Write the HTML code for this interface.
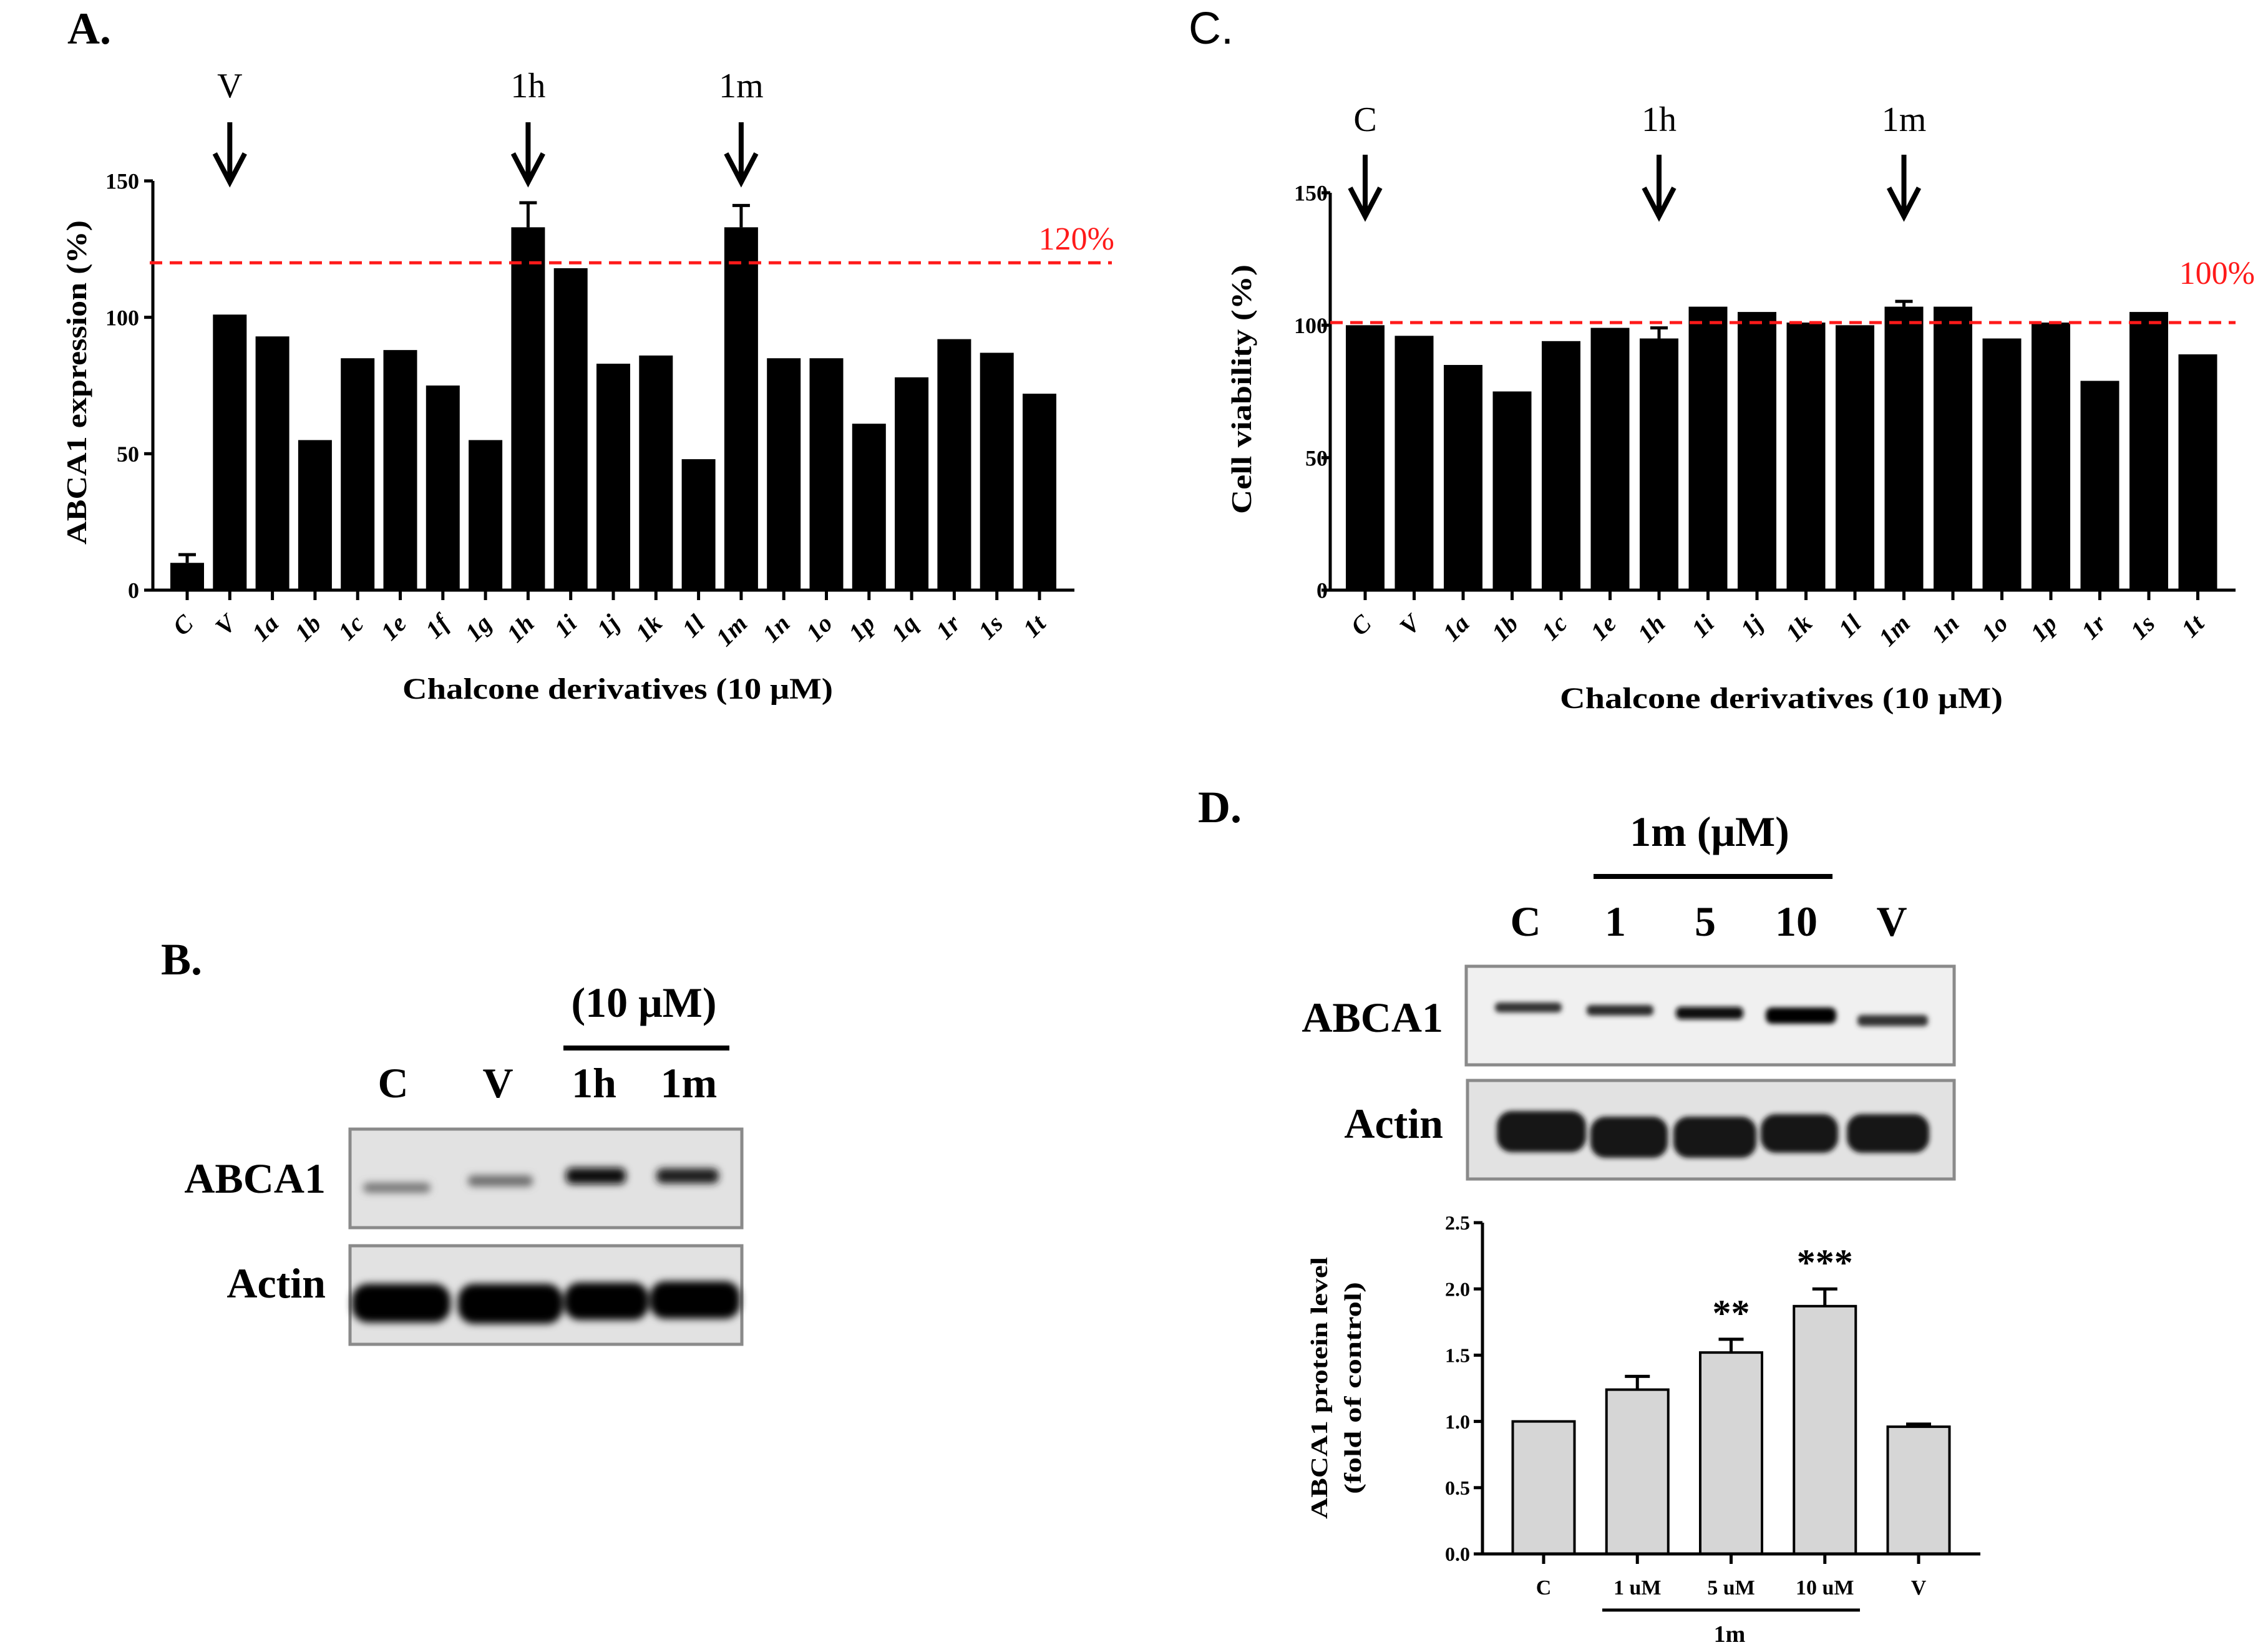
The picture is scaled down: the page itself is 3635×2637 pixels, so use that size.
<!DOCTYPE html>
<html><head><meta charset="utf-8"><style>
html,body{margin:0;padding:0;background:#fff}
svg{display:block}
text{font-family:"Liberation Serif",serif}
</style></head><body>
<svg id="fig" width="3635" height="2637" viewBox="0 0 3635 2637" xmlns="http://www.w3.org/2000/svg">
<defs>
<filter id="blur6" x="-20%" y="-100%" width="140%" height="300%"><feGaussianBlur stdDeviation="6"/></filter>
<filter id="blur4" x="-20%" y="-100%" width="140%" height="300%"><feGaussianBlur stdDeviation="4"/></filter>
</defs>
<text x="108" y="70" font-size="72" font-weight="bold">A.</text>
<text x="1905" y="70" font-size="72" style="font-family:'Liberation Sans',sans-serif">C.</text>
<text x="258" y="1562" font-size="72" font-weight="bold">B.</text>
<text x="1920" y="1318" font-size="72" font-weight="bold">D.</text>

<g id="chartA"></g>
<g id="chartC"></g>
<g id="chartD"></g>

<g>
<text x="1032" y="1630" font-size="68" font-weight="bold" text-anchor="middle">(10 μM)</text>
<line x1="903" y1="1680" x2="1169" y2="1680" stroke="#000" stroke-width="8"/>
<text x="630" y="1759" font-size="68" font-weight="bold" text-anchor="middle">C</text>
<text x="798" y="1759" font-size="68" font-weight="bold" text-anchor="middle">V</text>
<text x="952" y="1759" font-size="68" font-weight="bold" text-anchor="middle">1h</text>
<text x="1104" y="1759" font-size="68" font-weight="bold" text-anchor="middle">1m</text>
<text x="522" y="1912" font-size="68" font-weight="bold" text-anchor="end">ABCA1</text>
<text x="522" y="2080" font-size="68" font-weight="bold" text-anchor="end">Actin</text>
<rect x="561" y="1810" width="628" height="158" fill="#e2e2e2" stroke="#8a8a8a" stroke-width="5"/>
<rect x="561" y="1997" width="628" height="158" fill="#e2e2e2" stroke="#8a8a8a" stroke-width="5"/>
<g filter="url(#blur6)">
<rect x="582" y="1896" width="108" height="16" rx="8" fill="#777"/>
<rect x="750" y="1884" width="104" height="18" rx="8" fill="#6e6e6e"/>
<rect x="907" y="1872" width="96" height="26" rx="10" fill="#111"/>
<rect x="1052" y="1873" width="100" height="24" rx="10" fill="#1a1a1a"/>
<rect x="564" y="2058" width="158" height="62" rx="26" fill="#000"/>
<rect x="734" y="2058" width="168" height="64" rx="26" fill="#000"/>
<rect x="905" y="2056" width="134" height="60" rx="24" fill="#000"/>
<rect x="1042" y="2054" width="144" height="60" rx="24" fill="#000"/>
</g>
</g>

<g>
<text x="2740" y="1356" font-size="68" font-weight="bold" text-anchor="middle">1m (μM)</text>
<line x1="2554" y1="1405" x2="2937" y2="1405" stroke="#000" stroke-width="8"/>
<text x="2445" y="1500" font-size="68" font-weight="bold" text-anchor="middle">C</text>
<text x="2589" y="1500" font-size="68" font-weight="bold" text-anchor="middle">1</text>
<text x="2733" y="1500" font-size="68" font-weight="bold" text-anchor="middle">5</text>
<text x="2879" y="1500" font-size="68" font-weight="bold" text-anchor="middle">10</text>
<text x="3032" y="1500" font-size="68" font-weight="bold" text-anchor="middle">V</text>
<text x="2313" y="1654" font-size="68" font-weight="bold" text-anchor="end">ABCA1</text>
<text x="2313" y="1824" font-size="68" font-weight="bold" text-anchor="end">Actin</text>
<rect x="2350" y="1549" width="782" height="158" fill="#f0f0f0" stroke="#8a8a8a" stroke-width="5"/>
<rect x="2352" y="1732" width="780" height="158" fill="#e2e2e2" stroke="#8a8a8a" stroke-width="5"/>
<g filter="url(#blur4)">
<rect x="2396" y="1607" width="107" height="16" rx="7" fill="#333"/>
<rect x="2543" y="1611" width="107" height="17" rx="7" fill="#2a2a2a"/>
<rect x="2686" y="1614" width="108" height="20" rx="8" fill="#0a0a0a"/>
<rect x="2830" y="1615" width="113" height="26" rx="10" fill="#000"/>
<rect x="2977" y="1627" width="113" height="18" rx="7" fill="#333"/>
<rect x="2399" y="1781" width="143" height="66" rx="24" fill="#151515"/>
<rect x="2549" y="1790" width="124" height="66" rx="24" fill="#151515"/>
<rect x="2682" y="1790" width="133" height="66" rx="24" fill="#151515"/>
<rect x="2822" y="1786" width="124" height="62" rx="24" fill="#151515"/>
<rect x="2960" y="1786" width="132" height="62" rx="24" fill="#151515"/>
</g>
</g>
</svg>
<script>
const NS = "http://www.w3.org/2000/svg";
const catsA = ["C","V","1a","1b","1c","1e","1f","1g","1h","1i","1j","1k","1l","1m","1n","1o","1p","1q","1r","1s","1t"];
const valsA = [10,101,93,55,85,88,75,55,133,118,83,86,48,133,85,85,61,78,92,87,72];
const errA = [3,0,0,0,0,0,0,0,9,0,0,0,0,8,0,0,0,0,0,0,0];
const ticksA = [0,50,100,150];
const refA = 120;
const arrowsA = ["V","1h","1m"];
const catsC = ["C","V","1a","1b","1c","1e","1h","1i","1j","1k","1l","1m","1n","1o","1p","1r","1s","1t"];
const valsC = [100,96,85,75,94,99,95,107,105,101,100,107,107,95,101,79,105,89];
const errC = [0,0,0,0,0,0,4,0,0,0,0,2,0,0,0,0,0,0];
const ticksC = [0,50,100,150];
const refC = 101;
const arrowsC = ["C","1h","1m"];
const catsD = ["C","1 uM","5 uM","10 uM","V"];
const valsD = [1.0,1.24,1.52,1.87,0.96];
const errD = [0,0.10,0.10,0.13,0.02];
const starsD = ["","","**","***",""];
const ticksD = [0,0.5,1.0,1.5,2.0,2.5];

function mk(parent, tag, attrs, text){
  const e = document.createElementNS(NS, tag);
  for (const k in attrs) e.setAttribute(k, attrs[k]);
  if (text !== undefined) e.textContent = text;
  parent.appendChild(e);
  return e;
}
function arrow(g, x, y1, y2, name){
  const a = mk(g, "path", {d:`M${x},${y1} L${x},${y2} M${x-24},${y2-46} L${x},${y2} L${x+24},${y2-46}`, stroke:"#000","stroke-width":8,fill:"none"});
  
  
}

function barChart(cfg){
  const g = document.getElementById(cfg.id);
  const y = v => cfg.y0 - v / cfg.ymax * (cfg.y0 - cfg.ytop);
  const x = i => cfg.x0c + i * cfg.step;
  cfg.vals.forEach((v,i)=>{
    if (cfg.errs[i] > 0){
      const e = mk(g,"path",{d:`M${x(i)},${y(v)} L${x(i)},${y(v+cfg.errs[i])} M${x(i)-cfg.capW},${y(v+cfg.errs[i])} L${x(i)+cfg.capW},${y(v+cfg.errs[i])}`,stroke:"#000","stroke-width":cfg.errSW,fill:"none"});
      
      
    }
    const r = mk(g,"rect",{x:x(i)-cfg.bw/2,y:y(v),width:cfg.bw,height:y(0)-y(v),fill:cfg.fill,stroke:cfg.stroke||"none","stroke-width":cfg.strokeW||0});
    
    
    if (cfg.stars && cfg.stars[i]){
      const s = mk(g,"text",{x:x(i),y:y(v+cfg.errs[i])-cfg.starGap,"font-size":cfg.starSize,"font-weight":"bold","text-anchor":"middle","font-family":"Liberation Sans, sans-serif"},cfg.stars[i]);
      
      
    }
  });
  const ax = mk(g,"path",{d:`M${cfg.ax},${cfg.ytop} L${cfg.ax},${cfg.y0} L${cfg.xend},${cfg.y0}`,stroke:"#000","stroke-width":cfg.axW,fill:"none"});
  
  
  cfg.ticks.forEach(t=>{
    const tk = mk(g,"line",{x1:cfg.ax-14,y1:y(t),x2:cfg.ax,y2:y(t),stroke:"#000","stroke-width":cfg.axW});
    
    
    const tl = mk(g,"text",{x:cfg.ax-cfg.tlGap,y:y(t)+cfg.tickSize*0.35,"font-size":cfg.tickSize,"font-weight":"bold","text-anchor":"end"}, cfg.tickFmt ? cfg.tickFmt(t) : String(t));
    
    
  });
  cfg.cats.forEach((c,i)=>{
    const tk = mk(g,"line",{x1:x(i),y1:cfg.y0,x2:x(i),y2:cfg.y0+16,stroke:"#000","stroke-width":cfg.axW});
    
    
    let tl;
    if (cfg.rotate){
      tl = mk(g,"text",{x:x(i)+12,y:cfg.xlY,"font-size":cfg.xlSize,"font-weight":"bold","font-style":"italic","text-anchor":"end",transform:`rotate(-45 ${x(i)+12} ${cfg.xlY})`},c);
    } else {
      tl = mk(g,"text",{x:x(i),y:cfg.xlY,"font-size":cfg.xlSize,"font-weight":"bold","text-anchor":"middle"},c);
    }
    
    
  });
  if (cfg.ref !== undefined){
    const rl = mk(g,"line",{x1:cfg.refX1,y1:y(cfg.ref),x2:cfg.refX2,y2:y(cfg.ref),stroke:"#ff1a1a","stroke-width":5,"stroke-dasharray":"20 12"});
    
    
    const rt = mk(g,"text",{x:cfg.refTX,y:cfg.refTY,"font-size":52,fill:"#ff1a1a","text-anchor":"end"},cfg.refText);
    
    
  }
  if (cfg.arrows){
    cfg.arrows.forEach(a=>{
      const i = cfg.cats.indexOf(a);
      arrow(g, x(i), cfg.arrowY1, cfg.arrowY2, 'arrow-' + a);
      const t = mk(g,"text",{x:x(i),y:cfg.arrowLabY,"font-size":56,"text-anchor":"middle"},a);
      
      
    });
  }
  return {g,x,y};
}

const A = barChart({id:"chartA",cats:catsA,vals:valsA,errs:errA,ticks:ticksA,ymax:150,
  y0:946,ytop:290,ax:245,xend:1722,x0c:300,step:68.3,bw:54,fill:"#000",axW:5,errSW:5,capW:14,
  tickSize:36,tlGap:22,rotate:true,xlY:1002,xlSize:40,ref:refA,refX1:240,refX2:1782,refTX:1786,refTY:400,refText:"120%",
  arrows:arrowsA,arrowY1:196,arrowY2:292,arrowLabY:156});
(function(){
  const t1 = mk(A.g,"text",{x:0,y:0,"font-size":46,"font-weight":"bold","text-anchor":"middle",transform:"translate(138 613) rotate(-90)",textLength:520,lengthAdjust:"spacingAndGlyphs"},"ABCA1 expression (%)");
  
  
  const t2 = mk(A.g,"text",{x:990,y:1120,"font-size":48,"font-weight":"bold","text-anchor":"middle",textLength:690,lengthAdjust:"spacingAndGlyphs"},"Chalcone derivatives (10 μM)");
  
  
})();
const Cc = barChart({id:"chartC",cats:catsC,vals:valsC,errs:errC,ticks:ticksC,ymax:150,
  y0:946,ytop:309,ax:2132,xend:3583,x0c:2188,step:78.5,bw:62,fill:"#000",axW:5,errSW:5,capW:14,
  tickSize:36,tlGap:4,rotate:true,xlY:1002,xlSize:40,ref:refC,refX1:2132,refX2:3583,refTX:3614,refTY:455,refText:"100%",
  arrows:arrowsC,arrowY1:248,arrowY2:347,arrowLabY:210});
(function(){
  const t1 = mk(Cc.g,"text",{x:0,y:0,"font-size":46,"font-weight":"bold","text-anchor":"middle",transform:"translate(2005 624) rotate(-90)",textLength:400,lengthAdjust:"spacingAndGlyphs"},"Cell viability (%)");
  
  
  const t2 = mk(Cc.g,"text",{x:2855,y:1135,"font-size":48,"font-weight":"bold","text-anchor":"middle",textLength:710,lengthAdjust:"spacingAndGlyphs"},"Chalcone derivatives (10 μM)");
  
  
})();
const D = barChart({id:"chartD",cats:catsD,vals:valsD,errs:errD,ticks:ticksD,ymax:2.5,
  y0:2491,ytop:1960,ax:2376,xend:3174,x0c:2474,step:150.25,bw:99,fill:"#d6d6d6",stroke:"#000",strokeW:4,axW:5,errSW:5,capW:20,
  tickSize:32,tlGap:20,tickFmt:t=>t.toFixed(1),rotate:false,xlY:2556,xlSize:34,stars:starsD,starGap:22,starSize:60});
(function(){
  const ul = mk(D.g,"line",{x1:2568,y1:2581,x2:2981,y2:2581,stroke:"#000","stroke-width":5});
  
  
  const gl = mk(D.g,"text",{x:2772,y:2632,"font-size":38,"font-weight":"bold","text-anchor":"middle"},"1m");
  
  
  const t1 = mk(D.g,"text",{x:0,y:0,"font-size":38,"font-weight":"bold","text-anchor":"middle",transform:"translate(2127 2225) rotate(-90)",textLength:420,lengthAdjust:"spacingAndGlyphs"},"ABCA1 protein level");
  
  
  const t2 = mk(D.g,"text",{x:0,y:0,"font-size":38,"font-weight":"bold","text-anchor":"middle",transform:"translate(2181 2225) rotate(-90)",textLength:340,lengthAdjust:"spacingAndGlyphs"},"(fold of control)");
  
  
})();
</script>
</body></html>
